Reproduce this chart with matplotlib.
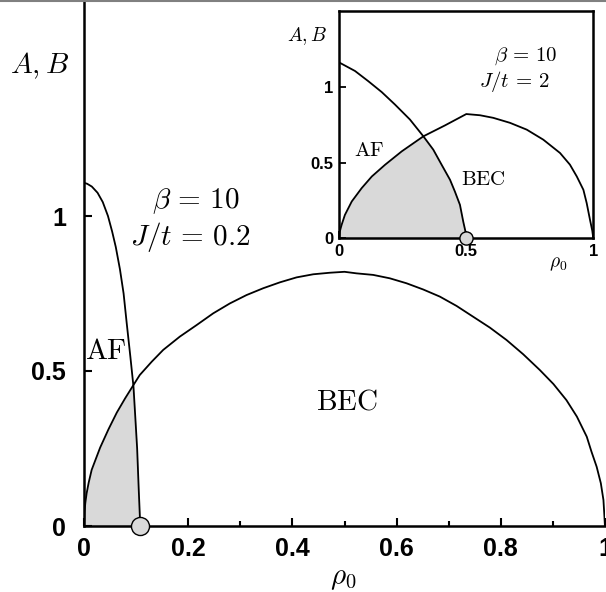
import matplotlib
matplotlib.use('Agg')
import matplotlib.pyplot as plt
import numpy as np
from matplotlib.lines import Line2D

plt.rcParams['mathtext.fontset'] = 'cm'

# ---------------- data ----------------
# main panel: beta = 10, J/t = 0.2
af_main_x = [0.0, 0.006, 0.015, 0.026, 0.036, 0.046, 0.054, 0.061, 0.069, 0.076, 0.082,
             0.089, 0.095, 0.0985, 0.102, 0.105, 0.108]
af_main_y = [1.107, 1.104, 1.095, 1.075, 1.045, 1.0, 0.95, 0.9, 0.828, 0.75, 0.654,
             0.546, 0.449, 0.35, 0.25, 0.12, 0.0]

bec_main_x = [0.0, 0.001, 0.0025, 0.005, 0.009, 0.0147, 0.031, 0.047, 0.063, 0.079, 0.095,
              0.107, 0.13, 0.152, 0.184, 0.216, 0.248, 0.280, 0.312, 0.344, 0.376, 0.408,
              0.44, 0.472, 0.5, 0.523, 0.555, 0.587, 0.619, 0.651, 0.683, 0.715, 0.747,
              0.779, 0.811, 0.843, 0.875, 0.901, 0.926, 0.946, 0.965, 0.974, 0.984, 0.992,
              0.997, 1.0]
bec_main_y = [0.0, 0.046, 0.074, 0.105, 0.14, 0.181, 0.253, 0.312, 0.366, 0.412, 0.455,
              0.487, 0.53, 0.568, 0.611, 0.648, 0.686, 0.718, 0.745, 0.767, 0.786, 0.802,
              0.812, 0.817, 0.82, 0.815, 0.81, 0.799, 0.783, 0.763, 0.74, 0.71, 0.675,
              0.64, 0.6, 0.554, 0.503, 0.458, 0.406, 0.353, 0.288, 0.24, 0.191, 0.138,
              0.084, 0.0]

# inset: beta = 10, J/t = 2
af_in_x = [0.0, 0.062, 0.114, 0.167, 0.219, 0.278, 0.331, 0.37, 0.403, 0.436, 0.455,
           0.475, 0.488, 0.496, 0.5]
af_in_y = [1.16, 1.104, 1.037, 0.965, 0.883, 0.784, 0.673, 0.585, 0.485, 0.386, 0.309,
           0.221, 0.11, 0.05, 0.0]

bec_in_x = [0.0, 0.002, 0.009, 0.022, 0.049, 0.088, 0.128, 0.18, 0.246, 0.331, 0.416, 0.5,
            0.554, 0.606, 0.672, 0.738, 0.803, 0.869, 0.908, 0.935, 0.961, 0.974, 0.987,
            0.996, 1.0]
bec_in_y = [0.0, 0.045, 0.088, 0.154, 0.243, 0.331, 0.408, 0.485, 0.574, 0.673, 0.745, 0.82,
            0.812, 0.795, 0.762, 0.717, 0.651, 0.563, 0.486, 0.408, 0.32, 0.232, 0.122,
            0.05, 0.0]

main_xticks = [0.0, 0.2, 0.4, 0.6, 0.8, 1.0]
main_xticklabels = ['0', '0.2', '0.4', '0.6', '0.8', '1']
main_xminor = [0.1, 0.3, 0.5, 0.7, 0.9]
main_yticks = [0.0, 0.5, 1.0]
main_yticklabels = ['0', '0.5', '1']

inset_xticks = [0.0, 0.5, 1.0]
inset_xticklabels = ['0', '0.5', '1']
inset_yticks = [0.0, 0.5, 1.0]
inset_yticklabels = ['0', '0.5', '1']

FILL = '#d9d9d9'
TICKFONT = dict(family='Liberation Sans', weight='bold')

fig = plt.figure(figsize=(6.06, 5.92), dpi=100)

# ---------------- main panel ----------------
ax = fig.add_axes([84/606, 1-526/592, (605-84)/606, 526/592])
ax.set_xlim(0, 1)
ax.set_ylim(0, 526/310)
for s in ['top', 'right']:
    ax.spines[s].set_visible(False)
for s in ['left', 'bottom']:
    ax.spines[s].set_linewidth(1.8)

def draw_phase(a, afx, afy, bx, by, ms):
    afx = np.asarray(afx); afy = np.asarray(afy)
    bx = np.asarray(bx); by = np.asarray(by)
    grid = np.linspace(0, afx[-1], 400)
    lower = np.minimum(np.interp(grid, afx, afy), np.interp(grid, bx, by))
    a.fill_between(grid, 0, lower, color=FILL, lw=0, zorder=1)
    a.plot(afx, afy, color='black', lw=1.3, zorder=3, solid_joinstyle='round')
    a.plot(bx, by, color='black', lw=1.3, zorder=3, solid_joinstyle='round')
    a.plot([afx[-1]], [0], 'o', ms=ms, mfc=FILL, mec='black', mew=1.0,
           clip_on=False, zorder=6)

draw_phase(ax, af_main_x, af_main_y, bec_main_x, bec_main_y, 13)

ax.set_xticks(main_xticks)
ax.set_xticklabels(main_xticklabels, fontsize=18, **TICKFONT)
ax.set_xticks(main_xminor, minor=True)
ax.set_yticks(main_yticks)
ax.set_yticklabels(main_yticklabels, fontsize=18, **TICKFONT)
ax.tick_params(axis='both', which='major', direction='in', length=6, width=1.5)
ax.tick_params(axis='x', which='major', pad=8)
ax.tick_params(axis='y', which='major', pad=13)
ax.tick_params(axis='x', which='minor', direction='in', length=3.5, width=1.5)

ax.text(-0.0845, 1.484, r'$A,B$', fontsize=21, ha='center', va='center', clip_on=False)
ax.text(0.215, 1.048, r'$\beta\,=\,10$', fontsize=21, ha='center', va='center')
ax.text(0.2035, 0.931, r'$J/t\,=\,0.2$', fontsize=21, ha='center', va='center')
ax.text(0.041, 0.563, r'$\mathrm{AF}$', fontsize=21, ha='center', va='center')
ax.text(0.505, 0.403, r'$\mathrm{BEC}$', fontsize=21, ha='center', va='center')
ax.text(0.497, -0.168, r'$\rho_0$', fontsize=21, ha='center', va='center', clip_on=False)

# ---------------- inset ----------------
ax2 = fig.add_axes([339.3/606, 1-238.3/592, 254/606, 227.3/592])
ax2.set_xlim(0, 1)
ax2.set_ylim(0, 1.5)
for s in ax2.spines.values():
    s.set_linewidth(1.8)

draw_phase(ax2, af_in_x, af_in_y, bec_in_x, bec_in_y, 9.5)

ax2.set_xticks(inset_xticks)
ax2.set_xticklabels(inset_xticklabels, fontsize=12, **TICKFONT)
ax2.set_yticks(inset_yticks)
ax2.set_yticklabels(inset_yticklabels, fontsize=12, **TICKFONT)
ax2.tick_params(axis='both', direction='in', length=5, width=1.3, pad=4)

ax2.text(-0.127, 1.333, r'$A,B$', fontsize=14, ha='center', va='center', clip_on=False)
ax2.text(0.734, 1.203, r'$\beta\,=\,10$', fontsize=15, ha='center', va='center')
ax2.text(0.689, 1.032, r'$J/t\,=\,2$', fontsize=15, ha='center', va='center')
ax2.text(0.117, 0.585, r'$\mathrm{AF}$', fontsize=15, ha='center', va='center')
ax2.text(0.567, 0.393, r'$\mathrm{BEC}$', fontsize=15, ha='center', va='center')
ax2.text(0.862, -0.166, r'$\rho_0$', fontsize=14, ha='center', va='center', clip_on=False)

# thin gray frame line at the very top of the picture
fig.add_artist(Line2D([0, 1], [1 - 1/592, 1 - 1/592], transform=fig.transFigure,
                      color='#808080', lw=1.5))

fig.savefig('out.png', dpi=100)
